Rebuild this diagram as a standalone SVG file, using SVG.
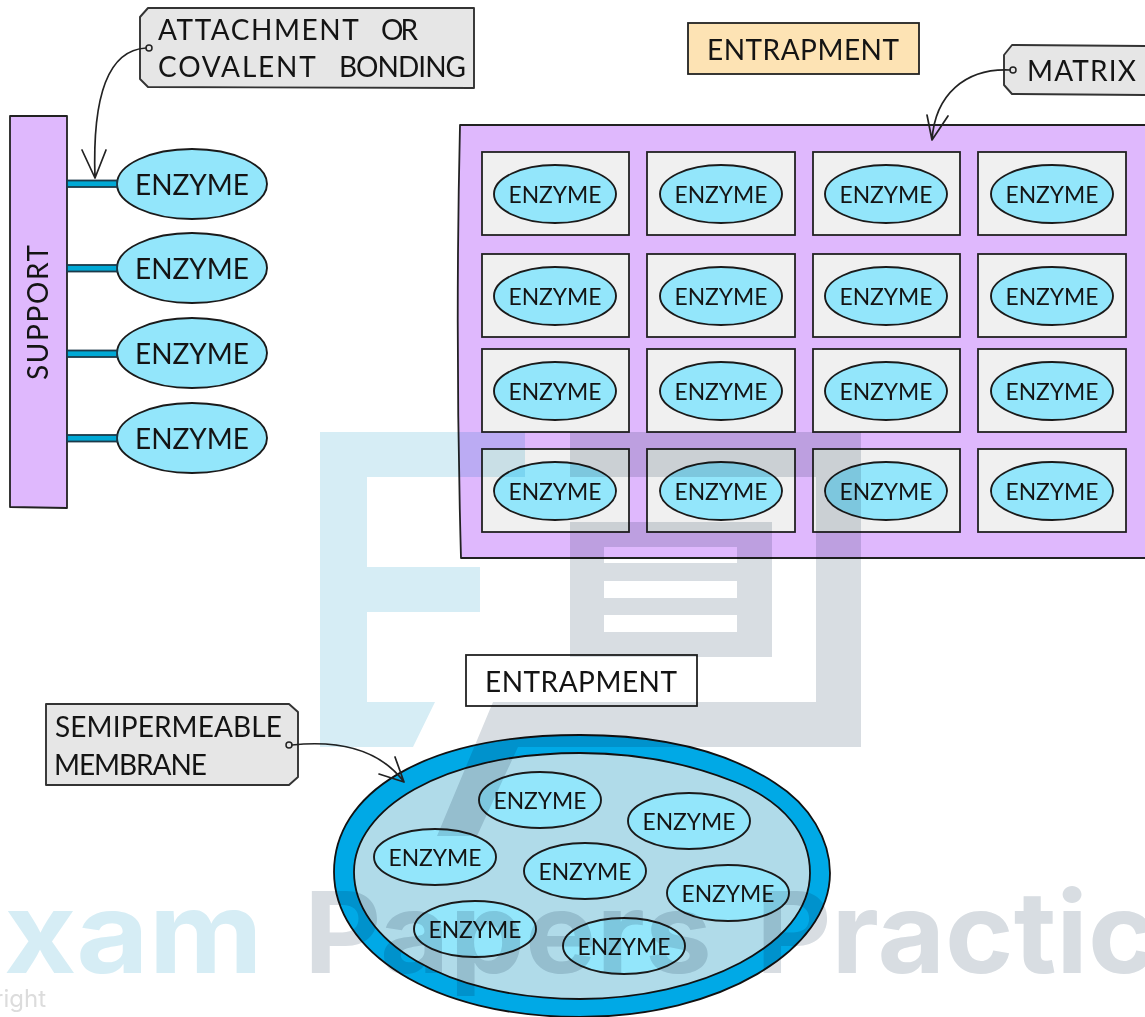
<svg xmlns="http://www.w3.org/2000/svg" width="1145" height="1017" viewBox="0 0 1145 1017">
<style>
text{font-family:"Lato","Liberation Sans",sans-serif;fill:#141414}
.s{stroke:#222;stroke-width:1.8;stroke-linejoin:round}
.e{fill:#93e6fb;stroke:#1a1a1a;stroke-width:1.9}
.c{fill:#f0f0f0;stroke:#222;stroke-width:1.8}
.t{fill:#e6e6e6;stroke:#333;stroke-width:1.9;stroke-linejoin:round}
.l{font-size:28px}
.m{font-size:24px;text-anchor:middle}
.b{font-size:28px;text-anchor:middle}
.bar{fill:#00a9d6;stroke:#1c3a4a;stroke-width:1.8}
.cv{fill:none;stroke:#222;stroke-width:1.7;stroke-linecap:round;stroke-linejoin:round}
.wm{mix-blend-mode:multiply}
.wb{fill:#d6edf5}
.wg{fill:#d8dde2}
.wt{font-family:"Inter","Liberation Sans",sans-serif;font-weight:700;font-size:113px}
</style>
<rect width="1145" height="1017" fill="#fff"/>

<g id="support"><path class="s" fill="#dfb8fd" d="M10,116 L67,116 L67,508 L10,507 Z"/>
<text class="l" transform="translate(48,380) rotate(-90)" textLength="135">SUPPORT</text></g>

<g id="tag-attachment"><path class="t" d="M148,8 L474,8 L474,88 L148,87 L140,79 L140,17 Z"/><circle cx="149" cy="48" r="3" fill="none" stroke="#222" stroke-width="1.5"/>
<text class="l" y="40"><tspan x="158" textLength="200">ATTACHMENT</tspan> <tspan x="381" textLength="37">OR</tspan></text>
<text class="l" y="77"><tspan x="158" textLength="157">COVALENT</tspan> <tspan x="339" textLength="127">BONDING</tspan></text></g>

<g id="enz-l1"><ellipse class="e" cx="192" cy="184" rx="75" ry="35"/><text class="b" x="192" y="195">ENZYME</text></g>
<g id="enz-l2"><ellipse class="e" cx="192" cy="268" rx="75" ry="35"/><text class="b" x="192" y="279">ENZYME</text></g>
<g id="enz-l3"><ellipse class="e" cx="192" cy="353" rx="75" ry="35"/><text class="b" x="192" y="364">ENZYME</text></g>
<g id="enz-l4"><ellipse class="e" cx="192" cy="438" rx="75" ry="35"/><text class="b" x="192" y="449">ENZYME</text></g>

<g id="title-entrapment-1"><rect x="688" y="23" width="231" height="51" fill="#fde3b4" stroke="#222" stroke-width="1.8"/><text class="l" x="707" y="60" textLength="192">ENTRAPMENT</text></g>
<g id="tag-matrix"><path class="t" d="M1012,45 L1147,46 L1147,95 L1012,94 L1004,85 L1004,55 Z"/><circle cx="1013" cy="70" r="3" fill="none" stroke="#222" stroke-width="1.5"/><text class="l" x="1027" y="81" textLength="109">MATRIX</text></g>

<g id="matrix"><path class="s" fill="#dfb8fd" d="M460,125 L1147,125 L1147,558 L461,558 Q455,340 460,125 Z"/></g>

<g id="cell-1-1"><rect class="c" x="482" y="152" width="147" height="83"/><ellipse class="e" cx="555" cy="194" rx="61" ry="29"/><text class="m" x="555" y="203" textLength="93" lengthAdjust="spacingAndGlyphs">ENZYME</text></g>
<g id="cell-1-2"><rect class="c" x="647" y="152" width="148" height="83"/><ellipse class="e" cx="721" cy="194" rx="61" ry="29"/><text class="m" x="721" y="203" textLength="93" lengthAdjust="spacingAndGlyphs">ENZYME</text></g>
<g id="cell-1-3"><rect class="c" x="813" y="152" width="147" height="83"/><ellipse class="e" cx="886" cy="194" rx="61" ry="29"/><text class="m" x="886" y="203" textLength="93" lengthAdjust="spacingAndGlyphs">ENZYME</text></g>
<g id="cell-1-4"><rect class="c" x="978" y="152" width="148" height="83"/><ellipse class="e" cx="1052" cy="194" rx="61" ry="29"/><text class="m" x="1052" y="203" textLength="93" lengthAdjust="spacingAndGlyphs">ENZYME</text></g>
<g id="cell-2-1"><rect class="c" x="482" y="254" width="147" height="83"/><ellipse class="e" cx="555" cy="296" rx="61" ry="29"/><text class="m" x="555" y="305" textLength="93" lengthAdjust="spacingAndGlyphs">ENZYME</text></g>
<g id="cell-2-2"><rect class="c" x="647" y="254" width="148" height="83"/><ellipse class="e" cx="721" cy="296" rx="61" ry="29"/><text class="m" x="721" y="305" textLength="93" lengthAdjust="spacingAndGlyphs">ENZYME</text></g>
<g id="cell-2-3"><rect class="c" x="813" y="254" width="147" height="83"/><ellipse class="e" cx="886" cy="296" rx="61" ry="29"/><text class="m" x="886" y="305" textLength="93" lengthAdjust="spacingAndGlyphs">ENZYME</text></g>
<g id="cell-2-4"><rect class="c" x="978" y="254" width="148" height="83"/><ellipse class="e" cx="1052" cy="296" rx="61" ry="29"/><text class="m" x="1052" y="305" textLength="93" lengthAdjust="spacingAndGlyphs">ENZYME</text></g>
<g id="cell-3-1"><rect class="c" x="482" y="349" width="147" height="83"/><ellipse class="e" cx="555" cy="391" rx="61" ry="29"/><text class="m" x="555" y="400" textLength="93" lengthAdjust="spacingAndGlyphs">ENZYME</text></g>
<g id="cell-3-2"><rect class="c" x="647" y="349" width="148" height="83"/><ellipse class="e" cx="721" cy="391" rx="61" ry="29"/><text class="m" x="721" y="400" textLength="93" lengthAdjust="spacingAndGlyphs">ENZYME</text></g>
<g id="cell-3-3"><rect class="c" x="813" y="349" width="147" height="83"/><ellipse class="e" cx="886" cy="391" rx="61" ry="29"/><text class="m" x="886" y="400" textLength="93" lengthAdjust="spacingAndGlyphs">ENZYME</text></g>
<g id="cell-3-4"><rect class="c" x="978" y="349" width="148" height="83"/><ellipse class="e" cx="1052" cy="391" rx="61" ry="29"/><text class="m" x="1052" y="400" textLength="93" lengthAdjust="spacingAndGlyphs">ENZYME</text></g>
<g id="cell-4-1"><rect class="c" x="482" y="449" width="147" height="83"/><ellipse class="e" cx="555" cy="491" rx="61" ry="29"/><text class="m" x="555" y="500" textLength="93" lengthAdjust="spacingAndGlyphs">ENZYME</text></g>
<g id="cell-4-2"><rect class="c" x="647" y="449" width="148" height="83"/><ellipse class="e" cx="721" cy="491" rx="61" ry="29"/><text class="m" x="721" y="500" textLength="93" lengthAdjust="spacingAndGlyphs">ENZYME</text></g>
<g id="cell-4-3"><rect class="c" x="813" y="449" width="147" height="83"/><ellipse class="e" cx="886" cy="491" rx="61" ry="29"/><text class="m" x="886" y="500" textLength="93" lengthAdjust="spacingAndGlyphs">ENZYME</text></g>
<g id="cell-4-4"><rect class="c" x="978" y="449" width="148" height="83"/><ellipse class="e" cx="1052" cy="491" rx="61" ry="29"/><text class="m" x="1052" y="500" textLength="93" lengthAdjust="spacingAndGlyphs">ENZYME</text></g>

<g id="title-entrapment-2"><rect x="466" y="655" width="231" height="51" fill="#fff" stroke="#222" stroke-width="1.8"/><text class="l" x="485" y="692" textLength="192">ENTRAPMENT</text></g>
<g id="tag-membrane"><path class="t" d="M46,704 L289,704 L298,712 L298,777 L289,785 L46,785 Z"/><circle cx="289" cy="745" r="3" fill="none" stroke="#222" stroke-width="1.5"/>
<text class="l" x="55" y="737" textLength="227">SEMIPERMEABLE</text><text class="l" x="54" y="775" textLength="153">MEMBRANE</text></g>

<g id="membrane"><path d="M334,872 C334,795 420,735 580,735 C680,735 740,760 775,783 C810,805 830,840 830,873 C830,950 720,1017 580,1017 C430,1017 334,950 334,872 Z" fill="#00a9e6" stroke="#111" stroke-width="1.8"/><path d="M354,872 C354,810 440,753 580,753 C650,753 700,768 735,782 C785,802 810,835 810,873 C810,945 700,999 580,999 C445,999 354,940 354,872 Z" fill="#b0dbe9" stroke="#111" stroke-width="1.8"/></g>
<g id="enz-m1"><ellipse class="e" cx="540" cy="800" rx="61" ry="28"/><text class="m" x="540" y="809" textLength="93" lengthAdjust="spacingAndGlyphs">ENZYME</text></g>
<g id="enz-m2"><ellipse class="e" cx="689" cy="821" rx="61" ry="28"/><text class="m" x="689" y="830" textLength="93" lengthAdjust="spacingAndGlyphs">ENZYME</text></g>
<g id="enz-m3"><ellipse class="e" cx="435" cy="857" rx="61" ry="28"/><text class="m" x="435" y="866" textLength="93" lengthAdjust="spacingAndGlyphs">ENZYME</text></g>
<g id="enz-m4"><ellipse class="e" cx="585" cy="871" rx="61" ry="28"/><text class="m" x="585" y="880" textLength="93" lengthAdjust="spacingAndGlyphs">ENZYME</text></g>
<g id="enz-m5"><ellipse class="e" cx="728" cy="893" rx="61" ry="28"/><text class="m" x="728" y="902" textLength="93" lengthAdjust="spacingAndGlyphs">ENZYME</text></g>
<g id="enz-m6"><ellipse class="e" cx="475" cy="929" rx="61" ry="28"/><text class="m" x="475" y="938" textLength="93" lengthAdjust="spacingAndGlyphs">ENZYME</text></g>
<g id="enz-m7"><ellipse class="e" cx="624" cy="946" rx="61" ry="28"/><text class="m" x="624" y="955" textLength="93" lengthAdjust="spacingAndGlyphs">ENZYME</text></g>

<g id="connectors">
<rect class="bar" x="67" y="180.500" width="50" height="6.500"/>
<rect class="bar" x="67" y="265" width="50" height="6.500"/>
<rect class="bar" x="67" y="350.500" width="50" height="6.500"/>
<rect class="bar" x="67" y="435" width="50" height="6.500"/>
<path class="cv" d="M146,48 C110,50 92,90 95,178 M82,150 L95,178 L106,150"/>
<path class="cv" d="M1010,70 C965,68 935,95 932,140 M927,115 L932,140 L948,116"/>
<path class="cv" d="M292,745 C340,740 380,750 404,782 M395,757 L404,782 L379,774"/>
</g>

<g id="watermark" class="wm">
<path class="wb" d="M320,432 H525 V477 H367 V567 H480 V612 H367 V702 H435 L413,747 H320 Z"/>
<path class="wg" fill-rule="evenodd" d="M570,432 H861 V747 H518 L477,836 H437 L493,702 H816 V477 H570 Z M570,522 H772 V657 H570 Z M604,547 V563 H737 V547 Z M604,581 V598 H737 V581 Z M604,615 V632 H737 V615 Z"/>
<text class="wt" x="-72" y="973" textLength="335" lengthAdjust="spacingAndGlyphs" style="fill:#d6edf5">Exam</text>
<text class="wt" x="304" y="973" textLength="408" lengthAdjust="spacingAndGlyphs" style="fill:#d8dde2">Papers</text>
<text class="wt" x="756" y="973" textLength="470" lengthAdjust="spacingAndGlyphs" style="fill:#d8dde2">Practice</text>
<text x="46" y="1007" text-anchor="end" style="fill:#dcdcdc;font-family:'Inter','Liberation Sans',sans-serif;font-size:24px">Copyright</text>
</g>
</svg>
